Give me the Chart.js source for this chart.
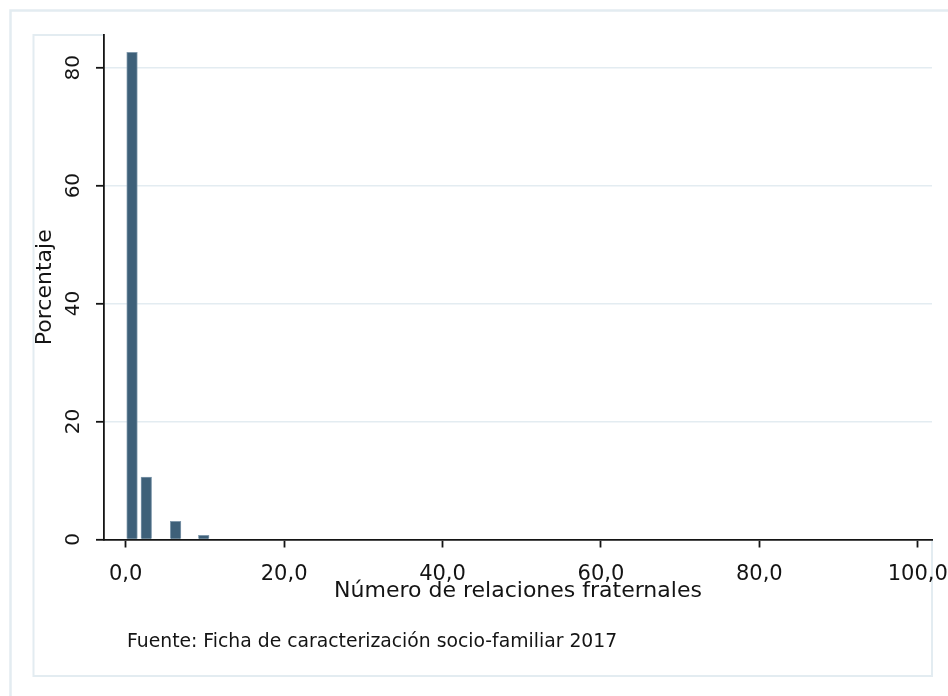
<!DOCTYPE html>
<html><head><meta charset="utf-8">
<script src="https://cdn.jsdelivr.net/npm/chart.js@4"></script>
<style>html,body{margin:0;padding:0;background:#fff;overflow:hidden;} canvas{display:block;}</style>
</head><body>
<canvas id="c" width="948" height="696"></canvas>
<script>
const binCenters = [0.8, 2.6, 6.3, 9.85];
const percentages = [82.6, 10.6, 3.1, 0.7];
const xTickValues = [0, 20, 40, 60, 80, 100];
const xTickLabels = ['0,0', '20,0', '40,0', '60,0', '80,0', '100,0'];
const yTickValues = [0, 20, 40, 60, 80];
const yTickLabels = ['0', '20', '40', '60', '80'];
const xTitle = 'Número de relaciones fraternales';
const yTitle = 'Porcentaje';
const note = 'Fuente: Ficha de caracterización socio-familiar 2017';

const FONT = '"DejaVu Sans", sans-serif';
const LIGHT = '#e3ecf1';
const DARK = '#141414';

const framePlugin = {
  id: 'frames',
  beforeDraw(chart) {
    const ctx = chart.ctx;
    const a = chart.chartArea;
    ctx.save();
    ctx.strokeStyle = LIGHT;
    ctx.lineWidth = 2.5;
    ctx.beginPath();
    ctx.moveTo(10.5, 700); ctx.lineTo(10.5, 10.5); ctx.lineTo(960, 10.5);
    ctx.stroke();
    ctx.lineWidth = 2;
    ctx.beginPath();
    ctx.moveTo(a.left, 35); ctx.lineTo(33.5, 35); ctx.lineTo(33.5, 676); ctx.lineTo(a.right, 676); ctx.lineTo(a.right, a.bottom);
    ctx.stroke();
    ctx.restore();
  },
  afterDraw(chart) {
    const ctx = chart.ctx;
    ctx.save();
    ctx.fillStyle = DARK;
    ctx.font = '18.8px ' + FONT;
    ctx.textAlign = 'left';
    ctx.textBaseline = 'middle';
    ctx.fillText(note, 127, 642);
    ctx.restore();
  }
};

new Chart(document.getElementById('c'), {
  type: 'bar',
  data: {
    datasets: [{
      data: binCenters.map((x, i) => ({ x: x, y: percentages[i] })),
      backgroundColor: '#3e6079',
      borderColor: '#8199ac',
      borderWidth: 1,
      barThickness: 10.6
    }]
  },
  options: {
    responsive: false,
    animation: false,
    devicePixelRatio: 1,
    layout: { padding: { left: 0, top: 35, right: 16, bottom: 86.5 } },
    plugins: { legend: { display: false }, tooltip: { enabled: false } },
    scales: {
      x: {
        type: 'linear',
        min: -2.74,
        max: 101.8,
        offset: false,
        grid: { display: true, offset: false, drawOnChartArea: false, drawTicks: true, tickLength: 8, tickColor: DARK, tickWidth: 1.8 },
        border: { display: true, color: DARK, width: 1.8 },
        afterBuildTicks: s => { s.ticks = xTickValues.map(v => ({ value: v })); },
        afterFit: s => { s.height = 70; s.paddingLeft = 0; s.paddingRight = 0; },
        ticks: {
          autoSkip: false, maxRotation: 0, minRotation: 0, padding: 14,
          color: DARK, font: { family: FONT, size: 21 },
          callback: (v, i) => xTickLabels[i]
        },
        title: { display: true, text: xTitle, color: DARK, font: { family: FONT, size: 22, lineHeight: 1.2 }, padding: { top: 0, bottom: 4.6 } }
      },
      y: {
        min: 0,
        max: 85.54,
        grid: {
          display: true, drawOnChartArea: true, drawTicks: true, tickLength: 8,
          color: c => (c.tick && c.tick.value === 0) ? 'rgba(0,0,0,0)' : LIGHT,
          lineWidth: 1.6, tickColor: DARK, tickWidth: 1.8
        },
        border: { display: true, color: DARK, width: 1.8 },
        afterBuildTicks: s => { s.ticks = yTickValues.map(v => ({ value: v })); },
        afterFit: s => { s.width = 104; s.paddingTop = 0; s.paddingBottom = 0; },
        ticks: {
          autoSkip: false, minRotation: 90, maxRotation: 90, crossAlign: 'center', padding: 9.8,
          color: DARK, font: { family: FONT, size: 20 },
          callback: (v, i) => yTickLabels[i]
        },
        title: { display: true, text: yTitle, color: DARK, font: { family: FONT, size: 22, lineHeight: 1.2 }, padding: { top: 31.8, bottom: 0 } }
      }
    }
  },
  plugins: [framePlugin]
});
</script>
</body></html>
